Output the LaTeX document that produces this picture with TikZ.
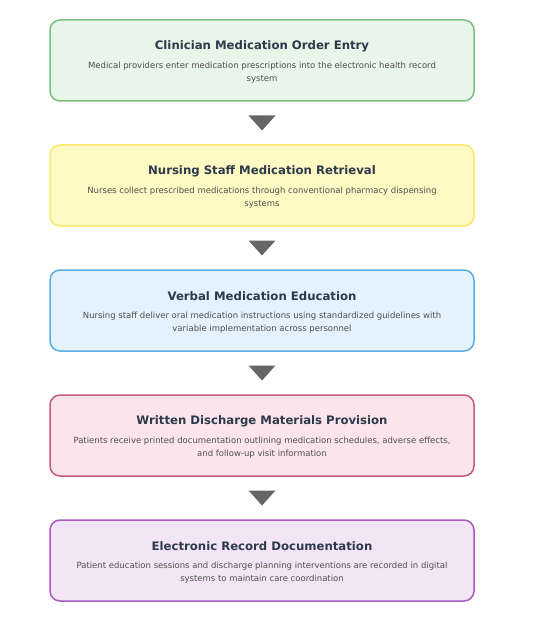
\documentclass[tikz,border=0pt]{standalone}
\usepackage{fontspec}
\setmainfont{DejaVu Sans}
\usetikzlibrary{positioning,calc}

\definecolor{greenline}{HTML}{7CC07F}
\definecolor{greenfill}{HTML}{E8F5E9}
\definecolor{yellowline}{HTML}{FBE86F}
\definecolor{yellowfill}{HTML}{FFF9C4}
\definecolor{blueline}{HTML}{5DADE2}
\definecolor{bluefill}{HTML}{E3F2FD}
\definecolor{pinkline}{HTML}{C85A80}
\definecolor{pinkfill}{HTML}{FCE4EC}
\definecolor{purpleline}{HTML}{A55BBE}
\definecolor{purplefill}{HTML}{F3E5F5}
\definecolor{titlecol}{HTML}{2C3A4B}
\definecolor{desccol}{HTML}{4F4F4F}
\definecolor{arrowgray}{HTML}{666666}

\begin{document}
\begin{tikzpicture}[x=1pt,y=-1pt,
  stagebox/.style={draw,line width=1.5pt,rounded corners=10pt,minimum width=424pt,
    minimum height=81pt,inner sep=0pt,outer sep=0pt},
  stagetitle/.style={font=\fontsize{11.7}{14}\selectfont\bfseries,text=titlecol},
  stagedesc/.style={font=\fontsize{8.5}{13}\selectfont,text=desccol,align=center},
  node distance=44pt]
  \useasboundingbox (0,0) rectangle (544,620);

  % the five stages, top to bottom
  \node[stagebox,draw=greenline,fill=greenfill] (order) at (262,60.5) {};
  \node[stagebox,draw=yellowline,fill=yellowfill,below=of order] (retrieval) {};
  \node[stagebox,draw=blueline,fill=bluefill,below=of retrieval] (verbal) {};
  \node[stagebox,draw=pinkline,fill=pinkfill,below=of verbal] (written) {};
  \node[stagebox,draw=purpleline,fill=purplefill,below=of written] (record) {};

  % titles and descriptions
  \node[stagetitle] (order-t) at ($(order.center)+(0,-14)$) {Clinician Medication Order Entry};
  \node[stagedesc] (order-d) at ($(order.center)+(0,12)$)
    {Medical providers enter medication prescriptions into the electronic health record\\system};
  \node[stagetitle] (retrieval-t) at ($(retrieval.center)+(0,-14)$) {Nursing Staff Medication Retrieval};
  \node[stagedesc] (retrieval-d) at ($(retrieval.center)+(0,12)$)
    {Nurses collect prescribed medications through conventional pharmacy dispensing\\systems};
  \node[stagetitle] (verbal-t) at ($(verbal.center)+(0,-14)$) {Verbal Medication Education};
  \node[stagedesc] (verbal-d) at ($(verbal.center)+(0,12)$)
    {Nursing staff deliver oral medication instructions using standardized guidelines with\\variable implementation across personnel};
  \node[stagetitle] (written-t) at ($(written.center)+(0,-14)$) {Written Discharge Materials Provision};
  \node[stagedesc] (written-d) at ($(written.center)+(0,12)$)
    {Patients receive printed documentation outlining medication schedules, adverse effects,\\and follow-up visit information};
  \node[stagetitle] (record-t) at ($(record.center)+(0,-14)$) {Electronic Record Documentation};
  \node[stagedesc] (record-d) at ($(record.center)+(0,12)$)
    {Patient education sessions and discharge planning interventions are recorded in digital\\systems to maintain care coordination};

  % down triangles between stages
  \foreach \a/\b in {order/retrieval, retrieval/verbal, verbal/written, written/record} {
    \fill[arrowgray] ($(\a.south)!0.5!(\b.north)+(-13.5,-7.5)$) -- ++(27,0) -- ++(-13.5,15) -- cycle;
  }
\end{tikzpicture}
\end{document}
